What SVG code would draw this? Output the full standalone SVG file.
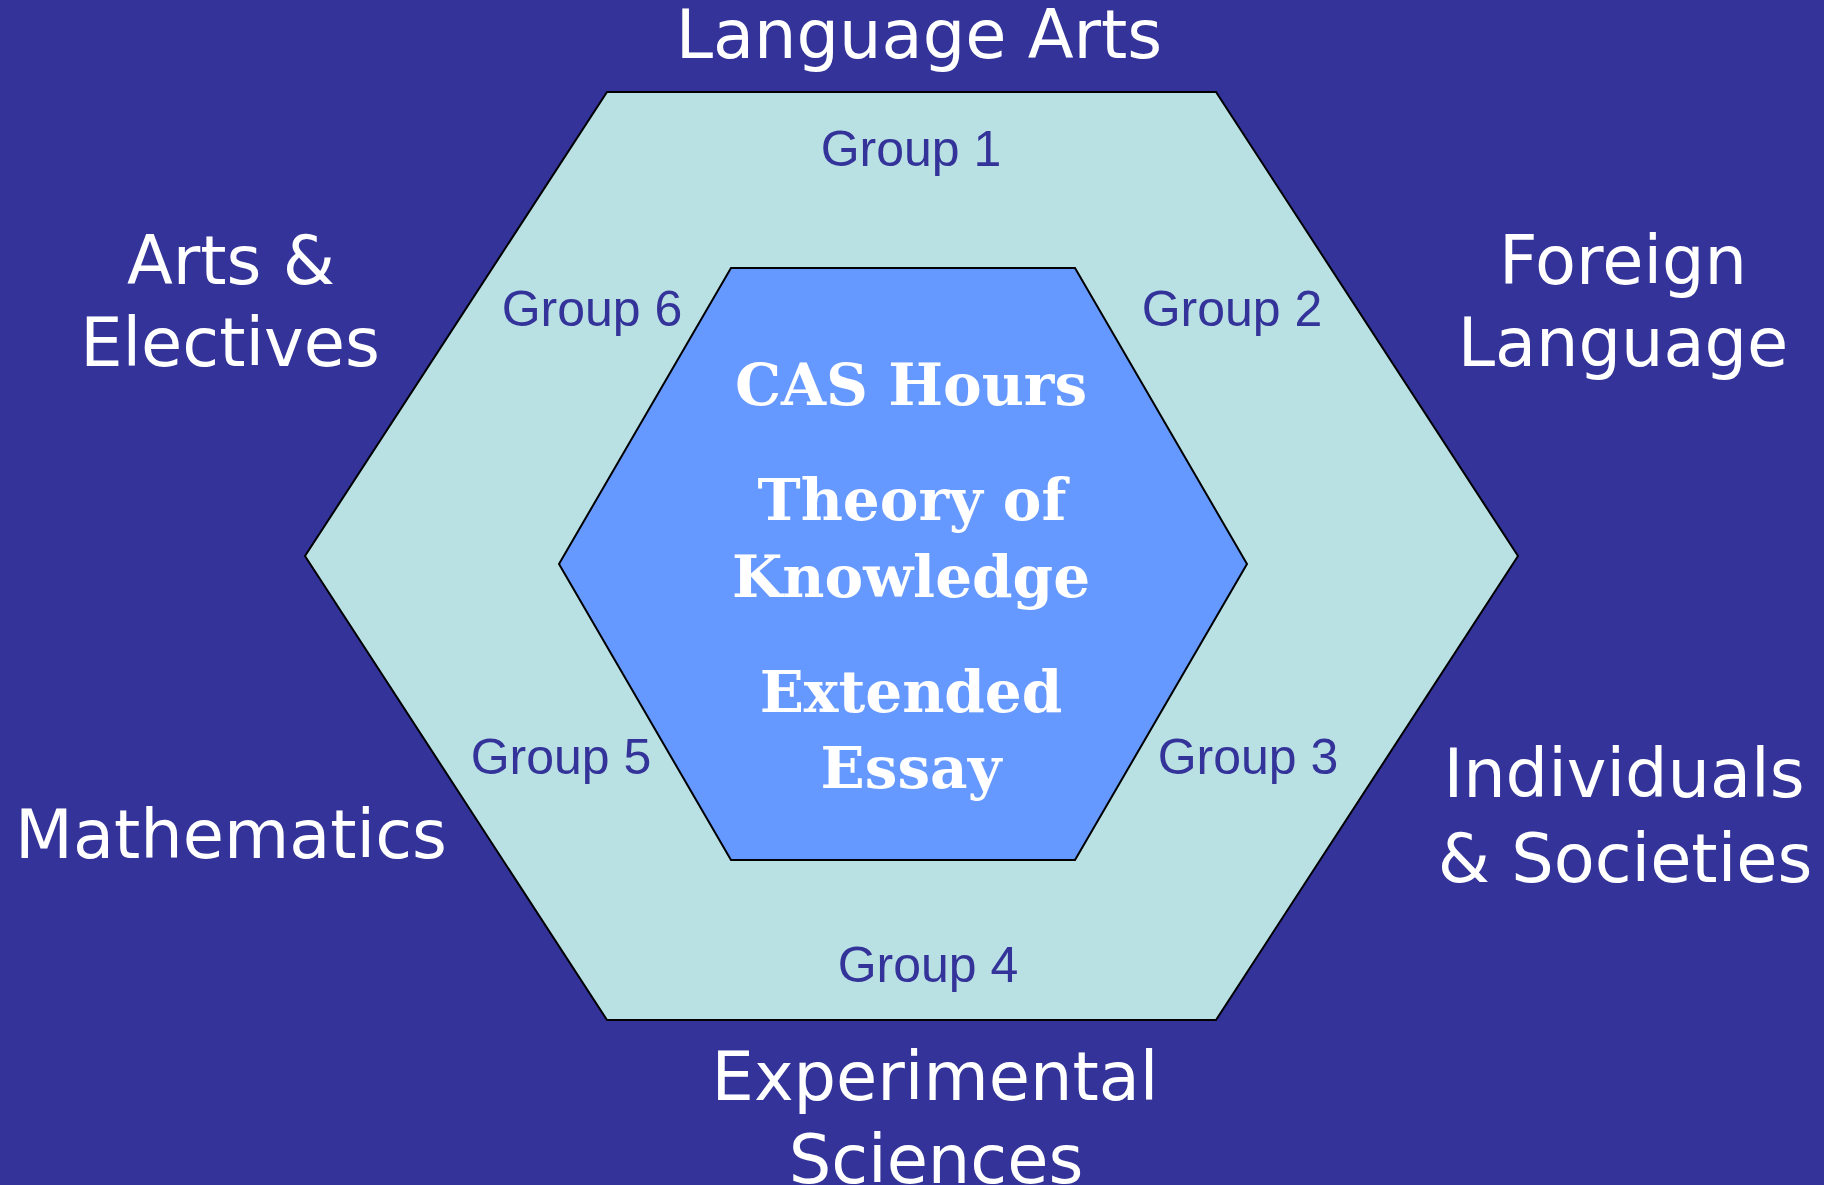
<svg xmlns="http://www.w3.org/2000/svg" width="1824" height="1185" viewBox="0 0 1824 1185">
<style>
.lbl{font-family:"DejaVu Sans","Liberation Sans",sans-serif;font-size:67px;fill:#ffffff;text-anchor:middle}
.grp{font-family:"Liberation Sans",Arial,sans-serif;font-size:50px;fill:#333399;text-anchor:middle}
.core{font-family:"DejaVu Serif","Liberation Serif",serif;font-weight:bold;font-size:58px;fill:#ffffff;text-anchor:middle}
.hex{stroke:#000000;stroke-width:2;stroke-linejoin:miter}
</style>
<rect x="0" y="0" width="1824" height="1185" fill="#333399"/>
<g id="outer-hexagon">
<polygon class="hex" fill="#B9E0E3" points="607,92 1216,92 1518,556 1216,1020 607,1020 305,556"/>
</g>
<g id="inner-hexagon">
<polygon class="hex" fill="#6699FF" points="731,268 1075,268 1247,564 1075,860 731,860 559,564"/>
</g>
<g id="connectors"></g>
<g id="core-text">
<text class="core" x="911" y="405">CAS Hours</text>
<text class="core" x="912" y="520">Theory of</text>
<text class="core" x="911" y="597">Knowledge</text>
<text class="core" x="911" y="712">Extended</text>
<text class="core" x="911" y="788">Essay</text>
</g>
<g id="group1"><text class="grp" x="911" y="166">Group 1</text></g>
<g id="group2"><text class="grp" x="1232" y="326">Group 2</text></g>
<g id="group3"><text class="grp" x="1248" y="774">Group 3</text></g>
<g id="group4"><text class="grp" x="928" y="982">Group 4</text></g>
<g id="group5"><text class="grp" x="561" y="774">Group 5</text></g>
<g id="group6"><text class="grp" x="592" y="326">Group 6</text></g>
<g id="language-arts"><text class="lbl" x="919" y="58">Language Arts</text></g>
<g id="foreign-language"><text class="lbl" x="1623" y="284">Foreign</text><text class="lbl" x="1623" y="366">Language</text></g>
<g id="individuals-societies"><text class="lbl" x="1624" y="797">Individuals</text><text class="lbl" x="1625" y="882">&amp; Societies</text></g>
<g id="experimental-sciences"><text class="lbl" x="935" y="1100">Experimental</text><text class="lbl" x="936" y="1183">Sciences</text></g>
<g id="mathematics"><text class="lbl" x="231" y="858">Mathematics</text></g>
<g id="arts-electives"><text class="lbl" x="231" y="284">Arts &amp;</text><text class="lbl" x="230" y="366">Electives</text></g>
</svg>
